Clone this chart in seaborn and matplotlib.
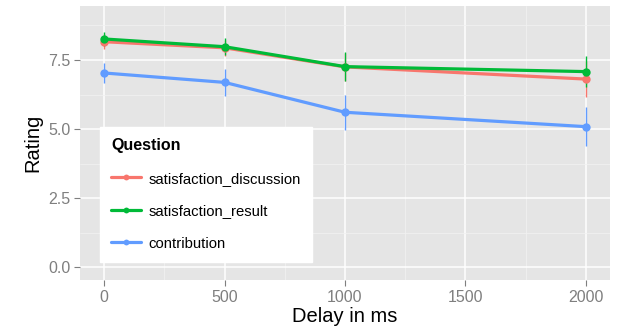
import matplotlib
matplotlib.use("Agg")
import matplotlib.pyplot as plt
import seaborn as sns
import pandas as pd
import numpy as np
from matplotlib.ticker import MultipleLocator

delays = [0, 500, 1000, 2000]
questions = ["satisfaction_discussion", "satisfaction_result", "contribution"]
sat_discussion = [8.16, 7.94, 7.25, 6.81]
sat_result = [8.26, 7.98, 7.26, 7.08]
contribution = [7.03, 6.69, 5.61, 5.09]
err_discussion = [0.28, 0.30, 0.50, 0.65]
err_result = [0.25, 0.30, 0.52, 0.56]
err_contribution = [0.37, 0.48, 0.63, 0.70]

colors = ["#F8766D", "#00BA38", "#619CFF"]

rows = []
for q, vals, errs in zip(questions, [sat_discussion, sat_result, contribution],
                         [err_discussion, err_result, err_contribution]):
    for d, v, e in zip(delays, vals, errs):
        rows.append({"Delay": d, "Rating": v, "err": e, "Question": q})
df = pd.DataFrame(rows)

sns.set_theme(style="darkgrid")
plt.rcParams['font.family'] = ['Liberation Sans', 'DejaVu Sans']

fig = plt.figure(figsize=(6.21, 3.36), dpi=100)
ax = fig.add_axes([0.129, 0.167, 0.853, 0.815])
ax.set_facecolor("#E5E5E5")

for q, c in zip(questions, colors):
    sub = df[df.Question == q]
    ax.vlines(sub.Delay, sub.Rating - sub.err, sub.Rating + sub.err, color=c, lw=1.0, zorder=3)

sns.lineplot(data=df, x="Delay", y="Rating", hue="Question", hue_order=questions,
             palette=colors, marker="o", markersize=6, markeredgewidth=0, lw=2.3,
             ax=ax, zorder=4)

ax.set_xlim(-100, 2100)
ax.set_ylim(-0.45, 9.45)
ax.set_xticks([0, 500, 1000, 1500, 2000])
ax.set_yticks([0.0, 2.5, 5.0, 7.5])
ax.set_yticklabels(["0.0", "2.5", "5.0", "7.5"])
ax.xaxis.set_minor_locator(MultipleLocator(250))
ax.yaxis.set_minor_locator(MultipleLocator(1.25))
ax.grid(which="major", color="white", lw=1.1)
ax.grid(which="minor", color="#F2F2F2", lw=0.5)
for s in ax.spines.values():
    s.set_visible(False)
ax.tick_params(axis="both", which="major", labelsize=11.5, labelcolor="#7F7F7F",
               color="#7F7F7F", length=4, width=0.8, direction="out", pad=3,
               bottom=True, left=True)
ax.tick_params(which="minor", length=0)
ax.set_xlabel("Delay in ms", fontsize=14.5, color="black", labelpad=2)
ax.set_ylabel("Rating", fontsize=14.5, color="black", labelpad=4)

leg = ax.legend(title="Question", loc="lower left", bbox_to_anchor=(0.038, 0.066),
                borderaxespad=0, frameon=True, fontsize=10.7, title_fontsize=11.5,
                handlelength=2.0, labelspacing=1.25, borderpad=0.75,
                handletextpad=0.5, markerscale=0.7)
leg.get_title().set_fontweight("bold")
leg.get_title().set_color("black")
for t in leg.get_texts():
    t.set_color("black")
leg._legend_box.align = "left"
leg.get_frame().set_facecolor("white")
leg.get_frame().set_edgecolor("white")
leg.get_frame().set_alpha(1)
leg.get_frame().set_boxstyle("square", pad=0)

fig.savefig("out.png", dpi=100)
